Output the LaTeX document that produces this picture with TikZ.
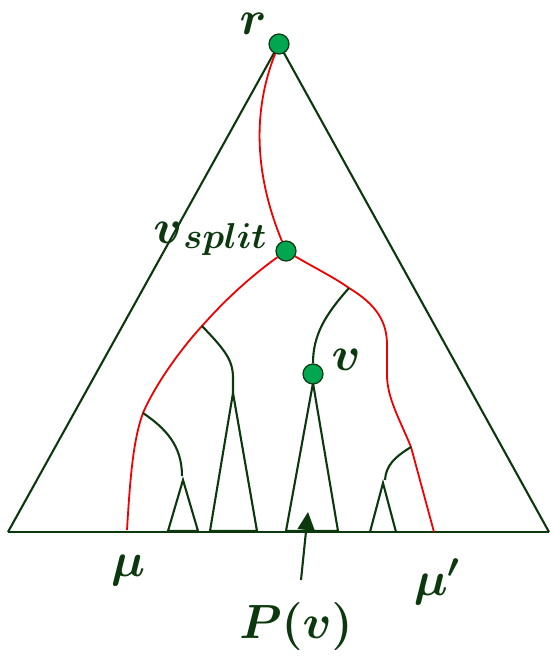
\RequirePackage{fix-cm}
\documentclass[tikz,border=0pt]{standalone}
\usetikzlibrary{arrows.meta}
\definecolor{dkg}{RGB}{12,56,14}
\definecolor{ndg}{RGB}{0,166,80}
\definecolor{rd}{RGB}{240,0,0}
\begin{document}
\begin{tikzpicture}[x=1pt,y=-1pt,
  ln/.style={draw=dkg,line width=2.1pt},
  rl/.style={draw=rd,line width=1.8pt},
  dot/.style={circle,fill=ndg,draw=dkg,line width=1.2pt,minimum size=20pt,inner sep=0pt},
  lab/.style={text=dkg,font=\fontsize{48}{52}\selectfont\boldmath,inner sep=0pt}]
\useasboundingbox (0,0) rectangle (550,657);
% coordinates
\coordinate (bl) at (8,532);
\coordinate (br) at (549,532);
\coordinate (j1) at (202,326);
\coordinate (j2) at (143,413);
\coordinate (j3) at (349,288);
\coordinate (j4) at (411,447);
\coordinate (mu) at (127,530);
\coordinate (mup) at (434,532);
\coordinate (t1) at (183,480);
\coordinate (t2) at (233,393);
\coordinate (t4) at (383,483);
% big triangle
\draw[ln] (bl) -- (br);
\draw[ln] (279,44) -- (bl);
\draw[ln] (279,44) -- (br);
% subtrees
\draw[ln,line join=miter] (t1) -- (198,531) -- (168,531) -- cycle;
\draw[ln,line join=miter] (t2) -- (257,531) -- (210,531) -- cycle;
\draw[ln,line join=miter] (313,383) -- (338,531) -- (286,531) -- cycle;
\draw[ln] (370,532) -- (t4) -- (396,532);
% nodes
\node[dot] (r) at (279,44) {};
\node[dot] (vs) at (286,251) {};
\node[dot] (v) at (313,374) {};
% red paths
\draw[rl] (r) .. controls (245,130) and (265,200) .. (vs);
\draw[rl] (vs) .. controls (250,277) and (225,300) .. (j1)
  .. controls (180,350) and (155,385) .. (j2)
  .. controls (133,440) and (130,480) .. (mu);
\draw[rl] (vs) .. controls (315,268) and (335,278) .. (j3)
  .. controls (377,305) and (387,322) .. (387,345) -- (387,375)
  .. controls (387,398) and (400,420) .. (j4) -- (mup);
% green branches
\draw[ln] (j3) .. controls (325,315) and (313,335) .. (v);
\draw[ln] (j1) .. controls (225,350) and (233,360) .. (233,378) -- (t2);
\draw[ln] (j2) .. controls (165,428) and (182,445) .. (182,476);
\draw[ln] (j4) .. controls (395,457) and (386,465) .. (385,480);
% arrow
\coordinate (atail) at (301,580);
\coordinate (atip) at (308,512);
\draw[ln,-{Triangle[length=18pt,width=17pt]}] (atail) -- (atip);
% labels
\node[lab] (lr) at (253,24) {$r$};
\node[lab,anchor=base] (lvs) at (210,243) {$v$\hspace{1pt}\raisebox{-5pt}{\fontsize{36}{40}\selectfont\boldmath$split$}};
\node[lab] (lv) at (346,360) {$v$};
\node[lab] (lmu) at (128,570) {$\mu$};
\node[lab] (lmup) at (437,582) {$\mu'$};
\node[lab] (lp) at (296,626) {$P(v)$};
\end{tikzpicture}
\end{document}
